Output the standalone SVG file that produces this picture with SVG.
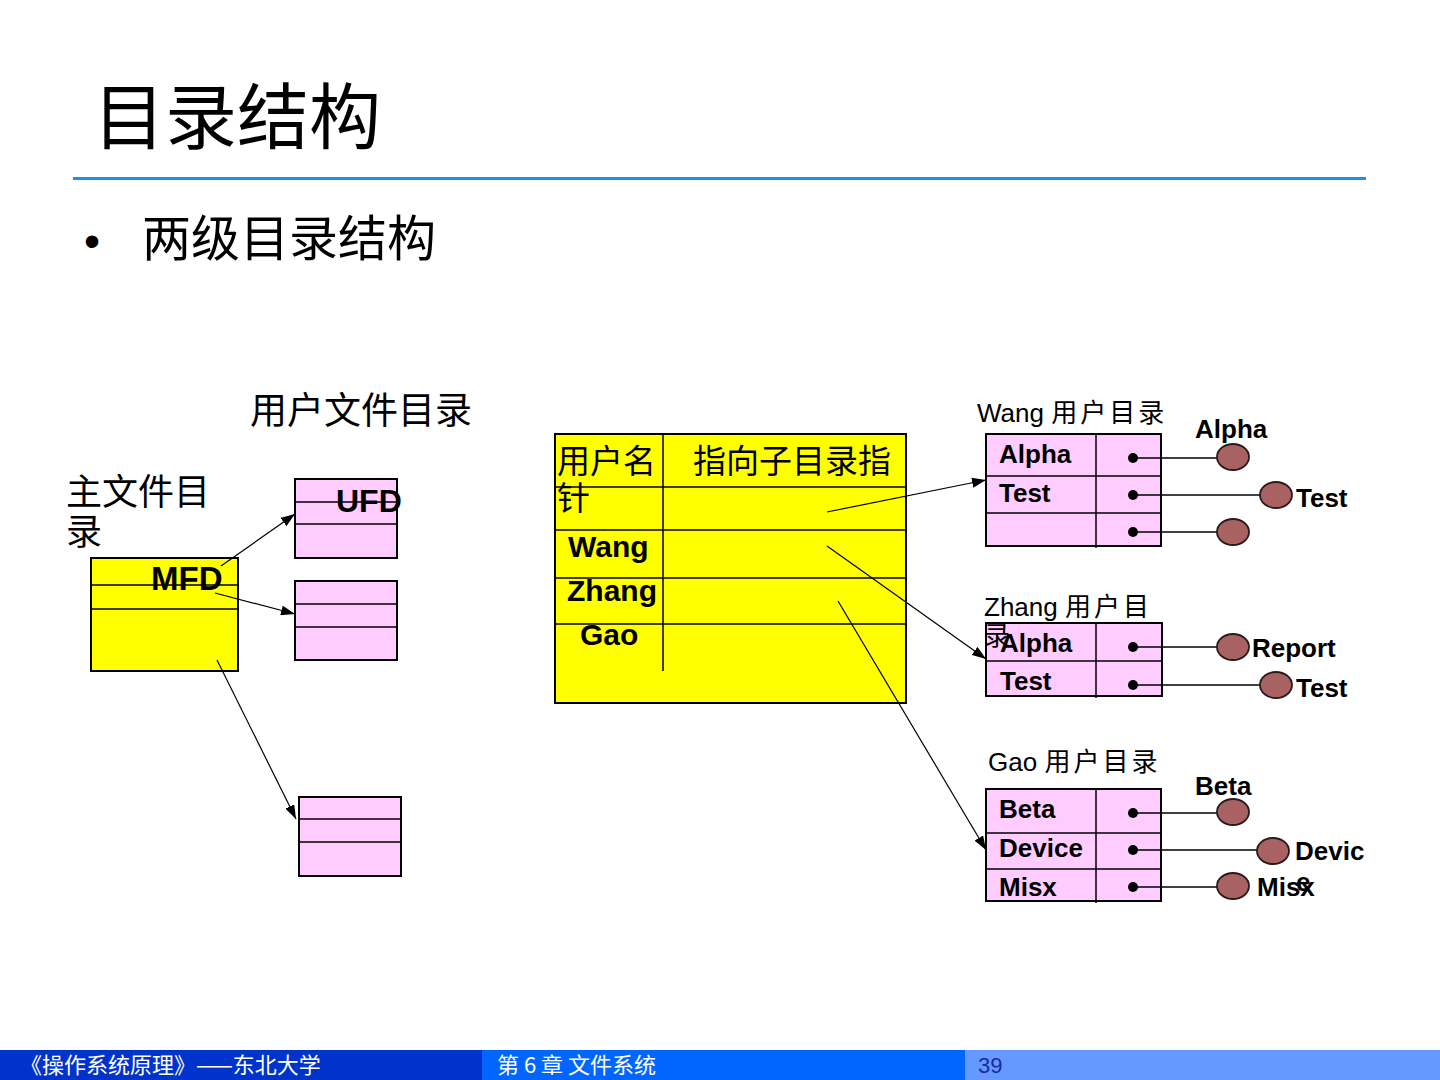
<svg xmlns="http://www.w3.org/2000/svg" width="1440" height="1080" viewBox="0 0 1440 1080">
<defs>
<marker id="ar" viewBox="0 0 14 10" refX="14" refY="5" markerWidth="14" markerHeight="10" markerUnits="userSpaceOnUse" orient="auto">
<path d="M0,0 L14,5 L0,10 z" fill="#000"/>
</marker>
</defs>
<style>
.cjk{font-family:"Noto Sans CJK SC","Liberation Sans",sans-serif;fill:#000}
.lat{font-family:"Liberation Sans","Noto Sans CJK SC",sans-serif;font-weight:bold;fill:#000}
.mix{font-family:"Liberation Sans","Noto Sans CJK SC",sans-serif;fill:#000}
.cs{font-family:"Noto Sans CJK SC",sans-serif;letter-spacing:3px}
.y{fill:#ffff00;stroke:#000;stroke-width:2}
.p{fill:#ffccff;stroke:#000;stroke-width:2}
.ln{stroke:#000;stroke-width:1.5;fill:none}
.cn{stroke:#000;stroke-width:1.2;fill:none;marker-end:url(#ar)}
.dot{fill:#000}
.el{fill:#a86262;stroke:#2a1a1a;stroke-width:1.8}
.wl{stroke:#000;stroke-width:1.5}
</style>
<rect width="1440" height="1080" fill="#fff"/>
<g id="title">
<text class="cjk" x="93" y="143" font-size="72">目录结构</text>
<rect x="73" y="177" width="1293" height="3" fill="#1a90e8"/>
</g>
<g id="bullet">
<text class="mix" x="84" y="257" font-size="46">•</text>
<text class="cjk" x="142" y="256" font-size="49">两级目录结构</text>
</g>
<g id="labels">
<text class="cjk" x="250" y="424" font-size="37">用户文件目录</text>
<text class="cjk" x="66" y="505" font-size="36">主文件目</text>
<text class="cjk" x="66" y="545" font-size="36">录</text>
</g>
<g id="mfd">
<rect class="y" x="91" y="558" width="147" height="113"/>
<line class="ln" x1="91" y1="585" x2="238" y2="585"/>
<line class="ln" x1="91" y1="609" x2="238" y2="609"/>
<text class="lat" x="151" y="590" font-size="33">MFD</text>
</g>
<g id="ufd1">
<rect class="p" x="295" y="479" width="102" height="79"/>
<line class="ln" x1="295" y1="502" x2="397" y2="502"/>
<line class="ln" x1="295" y1="524" x2="397" y2="524"/>
<text class="lat" x="336" y="512" font-size="32">UFD</text>
</g>
<g id="ufd2">
<rect class="p" x="295" y="581" width="102" height="79"/>
<line class="ln" x1="295" y1="604" x2="397" y2="604"/>
<line class="ln" x1="295" y1="627" x2="397" y2="627"/>
</g>
<g id="ufd3">
<rect class="p" x="299" y="797" width="102" height="79"/>
<line class="ln" x1="299" y1="819" x2="401" y2="819"/>
<line class="ln" x1="299" y1="842" x2="401" y2="842"/>
</g>
<g id="table">
<rect class="y" x="555" y="434" width="351" height="269"/>
<line class="ln" x1="663" y1="434" x2="663" y2="671"/>
<line class="ln" x1="555" y1="487" x2="906" y2="487"/>
<line class="ln" x1="555" y1="530" x2="906" y2="530"/>
<line class="ln" x1="555" y1="578" x2="906" y2="578"/>
<line class="ln" x1="555" y1="624" x2="906" y2="624"/>
<text class="cjk" x="557" y="473" font-size="33">用户名</text>
<text class="cjk" x="557" y="510" font-size="33">针</text>
<text class="cjk" x="693" y="473" font-size="33">指向子目录指</text>
<text class="lat" x="568" y="557" font-size="30">Wang</text>
<text class="lat" x="567" y="601" font-size="30">Zhang</text>
<text class="lat" x="580" y="645" font-size="30">Gao</text>
</g>
<g id="wang">
<text class="mix" x="977" y="422" font-size="26">Wang <tspan class="cs">用户目录</tspan></text>
<rect class="p" x="986" y="434" width="175" height="112"/>
<line class="ln" x1="1096" y1="434" x2="1096" y2="548"/>
<line class="ln" x1="986" y1="476" x2="1161" y2="476"/>
<line class="ln" x1="986" y1="513" x2="1161" y2="513"/>
<text class="lat" x="999" y="463" font-size="26">Alpha</text>
<text class="lat" x="999" y="502" font-size="26">Test</text>
<line class="wl" x1="1133" y1="458" x2="1217" y2="458"/>
<line class="wl" x1="1133" y1="495" x2="1260" y2="495"/>
<line class="wl" x1="1133" y1="532" x2="1217" y2="532"/>
<circle class="dot" cx="1133" cy="458" r="5"/>
<circle class="dot" cx="1133" cy="495" r="5"/>
<circle class="dot" cx="1133" cy="532" r="5"/>
<ellipse class="el" cx="1233" cy="457" rx="16" ry="13"/>
<ellipse class="el" cx="1276" cy="495" rx="16" ry="13"/>
<ellipse class="el" cx="1233" cy="532" rx="16" ry="13"/>
<text class="lat" x="1195" y="438" font-size="26">Alpha</text>
<text class="lat" x="1296" y="507" font-size="26">Test</text>
</g>
<g id="zhang">
<text class="mix" x="984" y="616" font-size="26">Zhang <tspan class="cs">用户目</tspan></text>
<rect class="p" x="986" y="623" width="176" height="73"/>
<line class="ln" x1="1096" y1="623" x2="1096" y2="698"/>
<line class="ln" x1="986" y1="661" x2="1162" y2="661"/>
<text class="cjk" x="984" y="645" font-size="26">录</text>
<text class="lat" x="1000" y="652" font-size="26">Alpha</text>
<text class="lat" x="1000" y="690" font-size="26">Test</text>
<line class="wl" x1="1133" y1="647" x2="1217" y2="647"/>
<line class="wl" x1="1133" y1="685" x2="1260" y2="685"/>
<circle class="dot" cx="1133" cy="647" r="5"/>
<circle class="dot" cx="1133" cy="685" r="5"/>
<ellipse class="el" cx="1233" cy="647" rx="16" ry="13"/>
<ellipse class="el" cx="1276" cy="685" rx="16" ry="13"/>
<text class="lat" x="1252" y="657" font-size="26">Report</text>
<text class="lat" x="1296" y="697" font-size="26">Test</text>
</g>
<g id="gao">
<text class="mix" x="988" y="771" font-size="26">Gao <tspan class="cs">用户目录</tspan></text>
<rect class="p" x="986" y="789" width="175" height="112"/>
<line class="ln" x1="1096" y1="789" x2="1096" y2="903"/>
<line class="ln" x1="986" y1="833" x2="1161" y2="833"/>
<line class="ln" x1="986" y1="869" x2="1161" y2="869"/>
<text class="lat" x="999" y="818" font-size="26">Beta</text>
<text class="lat" x="999" y="857" font-size="26">Device</text>
<text class="lat" x="999" y="896" font-size="26">Misx</text>
<line class="wl" x1="1133" y1="813" x2="1217" y2="813"/>
<line class="wl" x1="1133" y1="850" x2="1257" y2="850"/>
<line class="wl" x1="1133" y1="887" x2="1217" y2="887"/>
<circle class="dot" cx="1133" cy="813" r="5"/>
<circle class="dot" cx="1133" cy="850" r="5"/>
<circle class="dot" cx="1133" cy="887" r="5"/>
<ellipse class="el" cx="1233" cy="812" rx="16" ry="13"/>
<ellipse class="el" cx="1273" cy="851" rx="16" ry="13"/>
<ellipse class="el" cx="1233" cy="886" rx="16" ry="13"/>
<text class="lat" x="1195" y="795" font-size="26">Beta</text>
<text class="lat" x="1295" y="860" font-size="26">Devic</text>
<text class="lat" x="1296" y="891" font-size="26">e</text>
<text class="lat" x="1257" y="896" font-size="26">Misx</text>
</g>
<g id="connectors">
<line class="cn" x1="221" y1="566" x2="295" y2="514"/>
<line class="cn" x1="215" y1="593" x2="295" y2="614"/>
<line class="cn" x1="217" y1="660" x2="296" y2="819"/>
<line class="cn" x1="827" y1="512" x2="986" y2="480"/>
<line class="cn" x1="827" y1="546" x2="986" y2="659"/>
<line class="cn" x1="838" y1="601" x2="986" y2="850"/>
</g>
<g id="footer">
<rect x="0" y="1050" width="482" height="30" fill="#0033cc"/>
<rect x="482" y="1050" width="483" height="30" fill="#0066ff"/>
<rect x="965" y="1050" width="475" height="30" fill="#6699ff"/>
<text x="20" y="1073" font-size="22" fill="#fff" font-family="Noto Sans CJK SC, sans-serif">《操作系统原理》——东北大学</text>
<text x="497" y="1073" font-size="22" fill="#fff" font-family="Noto Sans CJK SC, sans-serif">第 6 章  文件系统</text>
<text x="978" y="1073" font-size="22" fill="#1a2aa0" font-family="Liberation Sans, sans-serif">39</text>
</g>
</svg>
